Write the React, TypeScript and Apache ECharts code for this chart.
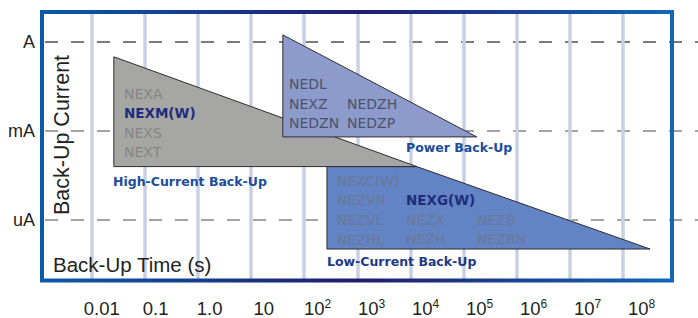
import React, { useEffect, useRef } from 'react';
import * as echarts from 'echarts';

// x: log10(back-up time in s), y: log10(back-up current in A)
const xTickValues = [-2, -1, 0, 1, 2, 3, 4, 5, 6, 7, 8];
const xTickBase = ['0.01', '0.1', '1.0', '10', '10', '10', '10', '10', '10', '10', '10'];
const xTickExp = ['', '', '', '', '2', '3', '4', '5', '6', '7', '8'];
const yTickValues = [-6, -3, 0];
const yTickLabels = ['uA', 'mA', 'A'];

// region outlines [log10 s, log10 A]
const highCurrent = [[-1.58, -0.5], [-1.58, -4.2], [4.12, -4.2]];
const powerBackup = [[1.6, 0.24], [1.6, -3.2], [5.25, -3.2]];
const lowCurrent = [[2.43, -4.2], [4.12, -4.2], [8.51, -6.98], [2.43, -6.98]];

const highCurrentNames = ['NEXA', 'NEXM(W)', 'NEXS', 'NEXT'];
const powerNamesCol1 = ['NEDL', 'NEXZ', 'NEDZN'];
const powerNamesCol2 = ['NEDZH', 'NEDZP'];
const lowNamesCol1 = ['NEXC(W)', 'NEZVN', 'NEZVL', 'NEZHL'];
const lowNamesCol2 = ['NEXG(W)', 'NEZX', 'NEZH'];
const lowNamesCol3 = ['NEZB', 'NEZBN'];
const highlighted = ['NEXM(W)', 'NEXG(W)'];

const AXIS_FONT = '"Liberation Sans", Arial, sans-serif';
const NAME_FONT = '"DejaVu Sans", sans-serif';

function polygonSeries(points: number[][], fill: string, z: number) {
  return {
    type: 'custom',
    xAxisIndex: 0,
    yAxisIndex: 0,
    silent: true,
    z,
    clip: false,
    data: [[0, 0]],
    renderItem: (_p: any, api: any) => ({
      type: 'polygon',
      shape: { points: points.map((pt) => api.coord(pt)) },
      style: { fill, stroke: '#2e2e30', lineWidth: 1 },
    }),
  };
}

function nameText(text: string, x: number, y: number, color: string) {
  const bold = highlighted.includes(text);
  return {
    type: 'text',
    x,
    y,
    z: 100,
    silent: true,
    style: {
      text,
      fill: bold ? '#1f2d7c' : color,
      font: `${bold ? 'bold 13.5px' : '14px'} ${NAME_FONT}`,
      textAlign: 'left',
      textVerticalAlign: 'middle',
    },
  };
}

function titleText(text: string, x: number, y: number, color: string) {
  return {
    type: 'text',
    x,
    y,
    z: 100,
    silent: true,
    style: {
      text,
      fill: color,
      font: `bold 12.5px ${NAME_FONT}`,
      textAlign: 'left',
      textVerticalAlign: 'middle',
    },
  };
}

export default function App() {
  const ref = useRef<HTMLDivElement>(null);

  useEffect(() => {
    document.body.style.margin = '0';
    if (!ref.current) return;
    const chart = echarts.init(ref.current, null, { renderer: 'svg' });

    const graphics: any[] = [
      {
        type: 'rect',
        z: 60,
        silent: true,
        shape: { x: 42, y: 12, width: 630, height: 268.5 },
        style: {
          fill: 'none',
          lineWidth: 4,
          stroke: new echarts.graphic.LinearGradient(0, 0, 1, 0, [
            { offset: 0, color: '#0b5aa8' },
            { offset: 0.5, color: '#1f1d70' },
            { offset: 1, color: '#1266b6' },
          ]),
        },
      },
      {
        type: 'text',
        x: 53,
        y: 264,
        z: 100,
        silent: true,
        style: {
          text: 'Back-Up Time (s)',
          fill: '#231f20',
          font: `20.5px ${AXIS_FONT}`,
          textAlign: 'left',
          textVerticalAlign: 'middle',
        },
      },
      {
        type: 'text',
        x: 62,
        y: 135,
        rotation: Math.PI / 2,
        z: 100,
        silent: true,
        style: {
          text: 'Back-Up Current',
          fill: '#231f20',
          font: `21.5px ${AXIS_FONT}`,
          textAlign: 'center',
          textVerticalAlign: 'middle',
        },
      },
    ];

    const hcY = [94, 113, 133, 152];
    highCurrentNames.forEach((n, i) => graphics.push(nameText(n, 124, hcY[i], '#858684')));
    const pY1 = [84, 104, 123];
    powerNamesCol1.forEach((n, i) => graphics.push(nameText(n, 289, pY1[i], '#4d5268')));
    const pY2 = [104, 123];
    powerNamesCol2.forEach((n, i) => graphics.push(nameText(n, 347, pY2[i], '#4d5268')));
    const lY1 = [181, 200, 220, 240];
    lowNamesCol1.forEach((n, i) => graphics.push(nameText(n, 337, lY1[i], '#6c7896')));
    const lY2 = [200, 220, 239];
    lowNamesCol2.forEach((n, i) => graphics.push(nameText(n, 406, lY2[i], '#6c7896')));
    const lY3 = [220, 239];
    lowNamesCol3.forEach((n, i) => graphics.push(nameText(n, 477, lY3[i], '#6c7896')));

    graphics.push(titleText('High-Current Back-Up', 113, 181, '#1a4e9c'));
    graphics.push(titleText('Power Back-Up', 406, 147, '#1a4e9c'));
    graphics.push(titleText('Low-Current Back-Up', 327, 261, '#1d3a8a'));

    chart.setOption({
      animation: false,
      grid: [
        { left: 91.5, right: 75, top: 14, bottom: 39 },
        { left: 45, right: 0, top: 42, bottom: 98 },
        { left: 101.7, right: 56.4, top: 280, bottom: 28 },
      ],
      xAxis: [
        {
          gridIndex: 0,
          type: 'value',
          min: -2,
          max: 8,
          interval: 1,
          axisLine: { show: false },
          axisTick: { show: false },
          axisLabel: { show: false },
          splitLine: { show: true, lineStyle: { color: '#c8d0e3', width: 3.5 } },
        },
        { gridIndex: 1, type: 'value', min: 0, max: 1, show: false },
        {
          gridIndex: 2,
          type: 'value',
          min: -2,
          max: 8,
          interval: 1,
          axisLine: { show: false },
          axisTick: { show: false },
          splitLine: { show: false },
          axisLabel: {
            margin: 9,
            formatter: (v: number) => {
              const i = xTickValues.indexOf(Math.round(v));
              if (i < 0) return '';
              return xTickExp[i] ? `{n|${xTickBase[i]}}{e|${xTickExp[i]}}` : `{n|${xTickBase[i]}}`;
            },
            rich: {
              n: { fontSize: 18.5, fontFamily: AXIS_FONT, color: '#231f20', lineHeight: 22 },
              e: { fontSize: 12, fontFamily: AXIS_FONT, color: '#231f20', lineHeight: 12, verticalAlign: 'top' },
            },
          },
        },
      ],
      yAxis: [
        { gridIndex: 0, type: 'value', min: -7.99, max: 0.944, show: false },
        {
          gridIndex: 1,
          type: 'value',
          min: -6,
          max: 0,
          interval: 3,
          axisLine: { show: false },
          axisTick: { show: false },
          axisLabel: {
            margin: 10,
            fontSize: 18,
            fontFamily: AXIS_FONT,
            color: '#231f20',
            formatter: (v: number) => {
              const i = yTickValues.indexOf(Math.round(v));
              return i < 0 ? '' : yTickLabels[i];
            },
          },
          splitLine: {
            show: true,
            lineStyle: { type: [13, 13], color: ['#858585', '#858585', '#505050'], width: 1.5 },
          },
        },
        { gridIndex: 2, type: 'value', show: false },
      ],
      series: [
        polygonSeries(lowCurrent, '#6283c4', 2),
        polygonSeries(highCurrent, '#a6a7a5', 3),
        polygonSeries(powerBackup, '#8c9acc', 4),
      ],
      graphic: graphics,
    });

    return () => chart.dispose();
  }, []);

  return (
    <div
      ref={ref}
      style={{ position: 'absolute', left: 0, top: 0, width: 698, height: 318, background: '#fff' }}
    />
  );
}
